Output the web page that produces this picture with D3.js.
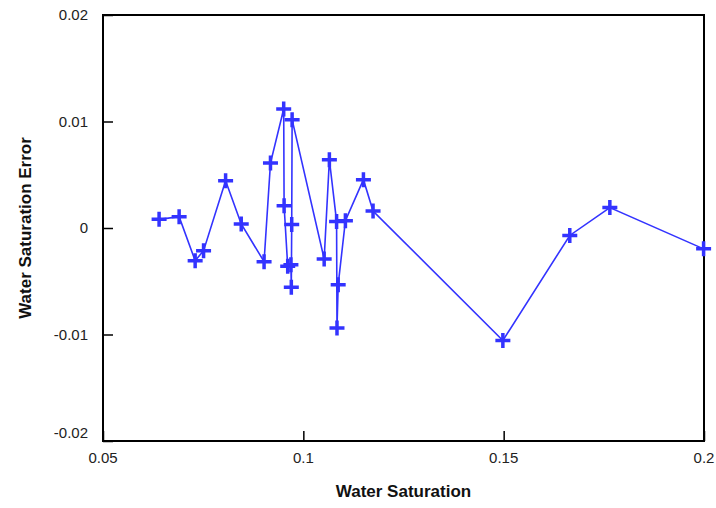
<!DOCTYPE html>
<html>
<head>
<meta charset="utf-8">
<script src="https://cdn.jsdelivr.net/npm/d3@7"></script>
<style>
  body { margin: 0; background: #fff; }
  text { font-family: "Liberation Sans", Arial, sans-serif; }
</style>
</head>
<body>
<div id="chart"></div>
<script>
// water saturation vs. error, in the order the line joins them
const saturation = [0.0640, 0.0690, 0.0730, 0.0751, 0.0806, 0.0845, 0.0902, 0.0918,
    0.0951, 0.0952, 0.0961, 0.0969, 0.0970, 0.0971, 0.0972, 0.1052, 0.1065, 0.1083,
    0.1084, 0.1087, 0.1105, 0.1150, 0.1174, 0.1498, 0.1665, 0.1765, 0.1999];
const satError = [0.00081, 0.00106, -0.00307, -0.00213, 0.00444, 0.00038, -0.00316, 0.00610,
    0.01117, 0.00209, -0.00359, -0.00345, -0.00556, 0.00034, 0.01017, -0.00291, 0.00641, 0.00062,
    -0.00939, -0.00532, 0.00069, 0.00454, 0.00160, -0.01056, -0.00070, 0.00192, -0.00196];
const xTicks = [0.05, 0.1, 0.15, 0.2];
const xTickLabels = ["0.05", "0.1", "0.15", "0.2"];
const yTicks = [0.02, 0.01, 0, -0.01, -0.02];
const yTickLabels = ["0.02", "0.01", "0", "-0.01", "-0.02"];

const points = saturation.map((x, i) => ({ x, y: satError[i] }));

const margin = { top: 15, left: 103, right: 12, bottom: 67 },
    width = 716 - margin.left - margin.right,
    height = 508 - margin.top - margin.bottom;

const svg = d3.select("#chart")
    .append("svg")
    .attr("width", width + margin.left + margin.right)
    .attr("height", height + margin.top + margin.bottom);
const g = svg.append("g")
    .attr("transform", "translate(" + margin.left + ", " + margin.top + ")");

const xScale = d3.scaleLinear().domain([0.05, 0.2]).range([0, width]);
const yScale = d3.scaleLinear().domain([-0.02, 0.02]).range([height, 0]);

// inward ticks, left and bottom only
const xAxisCall = d3.axisTop(xScale).tickValues(xTicks).tickSize(10).tickFormat("");
const yAxisCall = d3.axisRight(yScale).tickValues(yTicks).tickSize(10).tickFormat("");
g.append("g")
    .attr("class", "x axis")
    .attr("transform", "translate(0," + height + ")")
    .call(xAxisCall);
g.append("g")
    .attr("class", "y axis")
    .call(yAxisCall);
g.selectAll(".axis .domain").remove();
g.selectAll(".axis line").attr("stroke", "#000").attr("stroke-width", 1.5);

g.append("rect")
    .attr("width", width)
    .attr("height", height)
    .attr("fill", "none")
    .attr("stroke", "#000")
    .attr("stroke-width", 2);

g.selectAll(".xlabel")
    .data(xTicks)
    .enter()
    .append("text")
    .attr("x", (d) => xScale(d))
    .attr("y", height + 22)
    .attr("text-anchor", "middle")
    .attr("font-size", "15px")
    .attr("fill", "#222")
    .text((d, i) => xTickLabels[i]);

g.selectAll(".ylabel")
    .data(yTicks)
    .enter()
    .append("text")
    .attr("x", -15)
    .attr("y", (d) => yScale(d) + (d === -0.02 ? -3 : 5))
    .attr("text-anchor", "end")
    .attr("font-size", "15px")
    .attr("fill", "#222")
    .text((d, i) => yTickLabels[i]);

svg.append("text")
    .attr("x", margin.left + width / 2)
    .attr("y", 497)
    .attr("text-anchor", "middle")
    .attr("font-size", "17px")
    .attr("font-weight", "bold")
    .attr("fill", "#111")
    .text("Water Saturation");

svg.append("text")
    .attr("transform", "translate(31," + (margin.top + height / 2) + ") rotate(-90)")
    .attr("text-anchor", "middle")
    .attr("font-size", "17px")
    .attr("font-weight", "bold")
    .attr("fill", "#111")
    .text("Water Saturation Error");

const blue = "#3333ff";
const line = d3.line().x((d) => xScale(d.x)).y((d) => yScale(d.y));
g.append("path")
    .attr("fill", "none")
    .attr("stroke", blue)
    .attr("stroke-width", 1.6)
    .attr("d", line(points));

const arm = 7.5;
g.selectAll(".marker")
    .data(points)
    .enter()
    .append("path")
    .attr("class", "marker")
    .attr("d", (d) => {
        const cx = xScale(d.x), cy = yScale(d.y);
        return `M${cx - arm},${cy}H${cx + arm}M${cx},${cy - arm}V${cy + arm}`;
    })
    .attr("stroke", blue)
    .attr("stroke-width", 3.5)
    .attr("fill", "none");
</script>
</body>
</html>
